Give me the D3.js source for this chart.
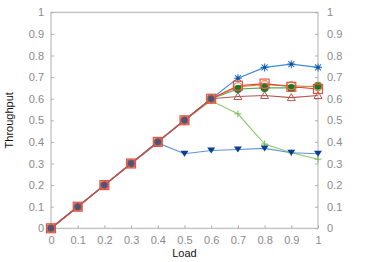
<!DOCTYPE html>
<html><head><meta charset="utf-8">
<script src="https://cdn.jsdelivr.net/npm/d3@7"></script>
<style>body{margin:0;background:#fff}svg{display:block}text{font-family:"Liberation Sans",Arial,sans-serif}</style>
</head><body><svg id="c" width="374" height="262"></svg>
<script>
const loads = [0,0.1,0.2,0.3,0.4,0.5,0.6,0.7,0.8,0.9,1];
const starSeries   = [0,0.1,0.2,0.3,0.4,0.5,0.6,0.695,0.745,0.76,0.745];
const plusSeries   = [0,0.1,0.2,0.3,0.4,0.5,0.59,0.53,0.39,0.35,0.32];
const triDownSeries= [0,0.1,0.2,0.3,0.395,0.345,0.36,0.365,0.37,0.35,0.345];
const triUpSeries  = [0,0.1,0.2,0.3,0.4,0.5,0.6,0.61,0.615,0.605,0.615];
const dotSeries    = [0,0.1,0.2,0.3,0.4,0.5,0.6,0.645,0.65,0.65,0.66];
const circleSeries = [0,0.1,0.2,0.3,0.4,0.5,0.6,0.655,0.665,0.66,0.655];
const squareSeries = [0,0.1,0.2,0.3,0.4,0.5,0.6,0.66,0.67,0.655,0.645];
const xTicks = [0,0.1,0.2,0.3,0.4,0.5,0.6,0.7,0.8,0.9,1];
const yTicks = [0,0.1,0.2,0.3,0.4,0.5,0.6,0.7,0.8,0.9,1];

const svg = d3.select("#c");
const L=51,R=318,T=12.3,B=228.3;
const x = d3.scaleLinear().domain([0,1]).range([L,R]);
const y = d3.scaleLinear().domain([0,1]).range([B,T]);
const axisCol="#b0b0b0", labCol="#8a8a8a";

svg.append("rect").attr("x",L).attr("y",T).attr("width",R-L).attr("height",B-T)
  .attr("fill","none").attr("stroke",axisCol).attr("stroke-width",1);

function styleAxis(g){
  g.select(".domain").remove();
  g.selectAll(".tick line").attr("stroke",axisCol);
  g.selectAll(".tick text").attr("fill",labCol).attr("font-size",11);
}
svg.append("g").attr("transform",`translate(0,${B})`)
  .call(d3.axisBottom(x).tickValues(xTicks).tickFormat(d3.format("~g")).tickSizeInner(-3).tickPadding(8))
  .call(styleAxis);
svg.append("g").attr("transform",`translate(${L},0)`)
  .call(d3.axisLeft(y).tickValues(yTicks).tickFormat(d3.format("~g")).tickSizeInner(-3).tickPadding(7))
  .call(styleAxis);
svg.append("g").attr("transform",`translate(${R},0)`)
  .call(d3.axisRight(y).tickValues(yTicks).tickFormat(d3.format("~g")).tickSizeInner(-3).tickPadding(9))
  .call(styleAxis);

svg.append("text").attr("x",(L+R)/2).attr("y",257).attr("text-anchor","middle")
  .attr("font-size",11).attr("fill","#111").text("Load");
svg.append("text").attr("transform",`translate(13,${(T+B)/2}) rotate(-90)`).attr("text-anchor","middle")
  .attr("font-size",11).attr("fill","#111").text("Throughput");

const line = d3.line().x((d,i)=>x(loads[i])).y(d=>y(d));

const series = [
  {v:plusSeries, line:"#8cc96a", m:"plus", c:"#7ab858"},
  {v:triDownSeries, line:"#5e93d9", m:"tridown", c:"#0b3f8f"},
  {v:triUpSeries, line:"#b5564e", m:"triup", c:"#b5564e"},
  {v:dotSeries, line:"#4aaf55", m:"dot", c:"#167a2a"},
  {v:circleSeries, line:"#e8883a", m:"circle", c:"#e8883a"},
  {v:starSeries, line:"#3f8ad6", m:"star", c:"#2a78cc"},
  {v:squareSeries, line:"#e0413a", m:"square", c:"#ea4a3c"},
];

series.forEach(s=>{
  svg.append("path").datum(s.v).attr("d",line).attr("fill","none")
    .attr("stroke",s.line).attr("stroke-width",1.1);
});
series.forEach(s=>{
  const g = svg.append("g");
  s.v.forEach((d,i)=>{
    const px=x(loads[i]), py=y(d);
    const m = g.append("g").attr("transform",`translate(${px},${py})`);
    if(s.m==="star"){
      m.append("path").attr("d","M-4,0H4M0,-4V4M-3,-3L3,3M-3,3L3,-3").attr("stroke",s.c).attr("stroke-width",1.1);
      m.append("circle").attr("r",i<7?2.8:1.6).attr("fill","#1a4f96");
    } else if(s.m==="plus"){
      m.append("path").attr("d","M-3.5,0H3.5M0,-3.5V3.5").attr("stroke",s.c).attr("stroke-width",1);
    } else if(s.m==="tridown"){
      m.append("path").attr("d","M-4,-3L4,-3L0,3Z").attr("fill",s.c);
    } else if(s.m==="triup"){
      m.append("path").attr("d","M0,-4L4,3L-4,3Z").attr("fill","none").attr("stroke",s.c).attr("stroke-width",1);
    } else if(s.m==="dot"){
      m.append("circle").attr("r",4).attr("fill",s.c);
    } else if(s.m==="circle"){
      m.append("circle").attr("r",4).attr("fill","none").attr("stroke",s.c).attr("stroke-width",1.1);
    } else if(s.m==="square"){
      m.append("rect").attr("x",-4.5).attr("y",-4.5).attr("width",9).attr("height",9)
        .attr("fill",i<7?"rgba(234,74,60,0.3)":"none").attr("stroke",s.c).attr("stroke-width",1.1);
    }
  });
});
</script></body></html>
